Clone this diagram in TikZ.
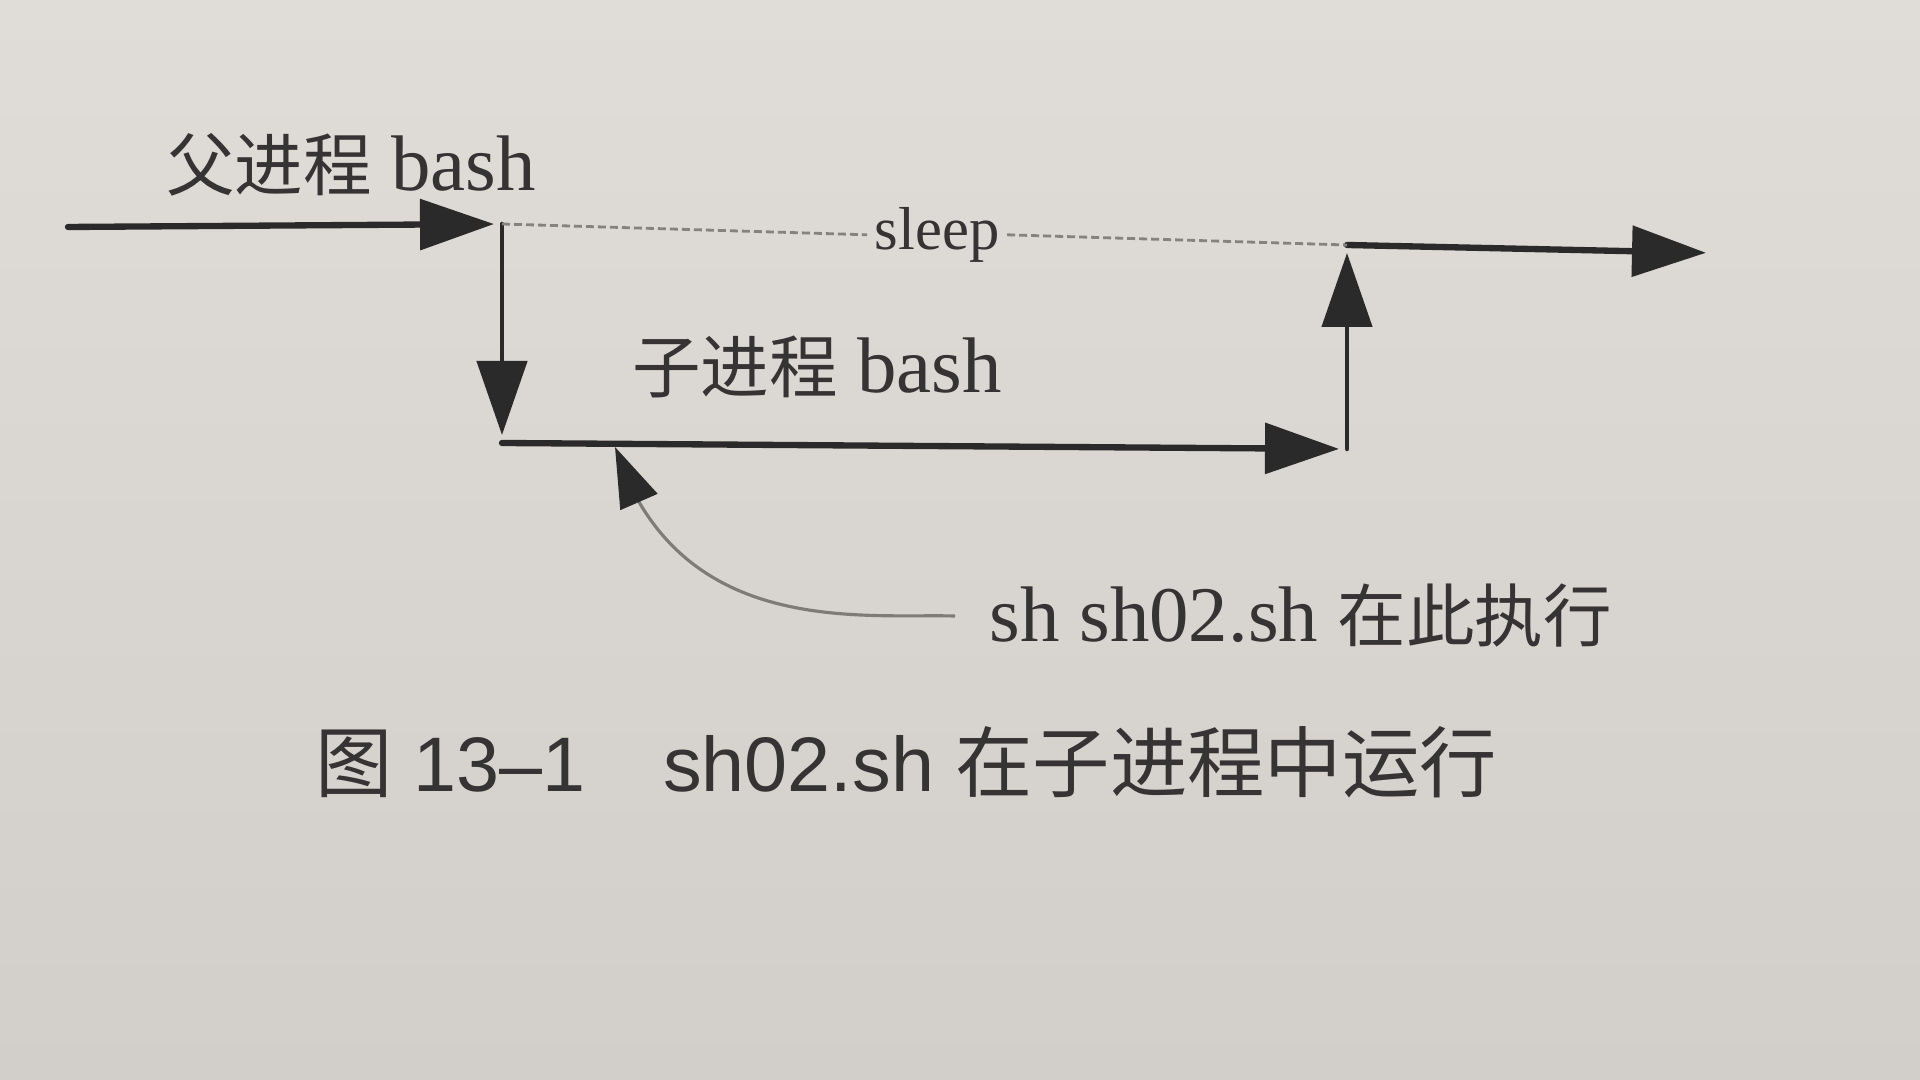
\documentclass[tikz,border=0pt]{standalone}
\usepackage{fontspec}
\setmainfont[Scale=1.15]{Liberation Serif}
\newfontfamily\cjk{Noto Sans CJK SC}
\newfontfamily\capfont{Liberation Sans}
\usepackage{tkz-euclide}
\usetikzlibrary{arrows.meta}

\definecolor{paperhi}{HTML}{E0DCD7}
\definecolor{paperlo}{HTML}{D2CEC9}
\definecolor{ink}{HTML}{2B2A2A}
\definecolor{print}{HTML}{353333}
\definecolor{dots}{HTML}{858280}
\definecolor{callout}{HTML}{7E7B79}

\tikzset{
  bigtip/.style={-{Triangle[length=7.4mm,width=5mm]}, shorten >=0.8mm},
  hline/.style={draw=ink, line width=1.8pt, bigtip},
  vline/.style={draw=ink, line width=1.3pt, bigtip},
  sleepline/.style={draw=dots, line width=0.8pt, dash pattern=on 0.8mm off 0.4mm},
  callline/.style={draw=callout, line width=0.9pt,
    -{Triangle[length=6mm,width=4mm,color=ink]}},
  lab/.style={text=print, font=\fontsize{19.5}{24}\selectfont, inner sep=0pt},
  sleeplab/.style={text=print, font=\fontsize{15}{18}\selectfont, inner sep=2pt},
  caplab/.style={text=print, font=\capfont\fontsize{22}{27}\selectfont, inner sep=0pt}
}

\begin{document}
\begin{tikzpicture}
\useasboundingbox (0,0) rectangle (19.2,10.8);
\fill[top color=paperhi, bottom color=paperlo] (0,0) rectangle (19.2,10.8);
% corners of the process lines
\tkzDefPoint(0.68,8.53){pL}\tkzDefPoint(5.02,8.56){A}
\tkzDefPoint(5.02,6.37){B}\tkzDefPoint(13.47,6.31){C}
\tkzDefPoint(13.47,8.35){D}\tkzDefPoint(17.14,8.27){pR}
\tkzDefPoint(6.39,5.78){Tb}\tkzDefPoint(6.15,6.33){T}
\tkzDrawSegments[hline](pL,A B,C D,pR)
\tkzDrawSegments[vline](A,B C,D)
% parent waits
\path (A) -- node[sleeplab, pos=0.515] (sleep) {sleep} (D);
\draw[sleepline] (A) -- (sleep.west);
\draw[sleepline] (sleep.east) -- (D);
\node[lab] (parent) at (3.51,9.15) {{\cjk 父进程} bash};
\node[lab] (child) at (8.17,7.13) {{\cjk 子进程} bash};
\node[lab, anchor=west] (exec) at (9.89,4.64) {sh sh02.sh {\cjk 在此执行}};
\draw[callline] ([xshift=-3.4mm]exec.west) .. controls (8.66,4.66) and (7.15,4.48) .. (Tb) -- (T);
\node[caplab] (cap) at (9.06,3.18) {{\cjk 图} 13–1\quad sh02.sh {\cjk 在子进程中运行}};
\end{tikzpicture}
\end{document}
